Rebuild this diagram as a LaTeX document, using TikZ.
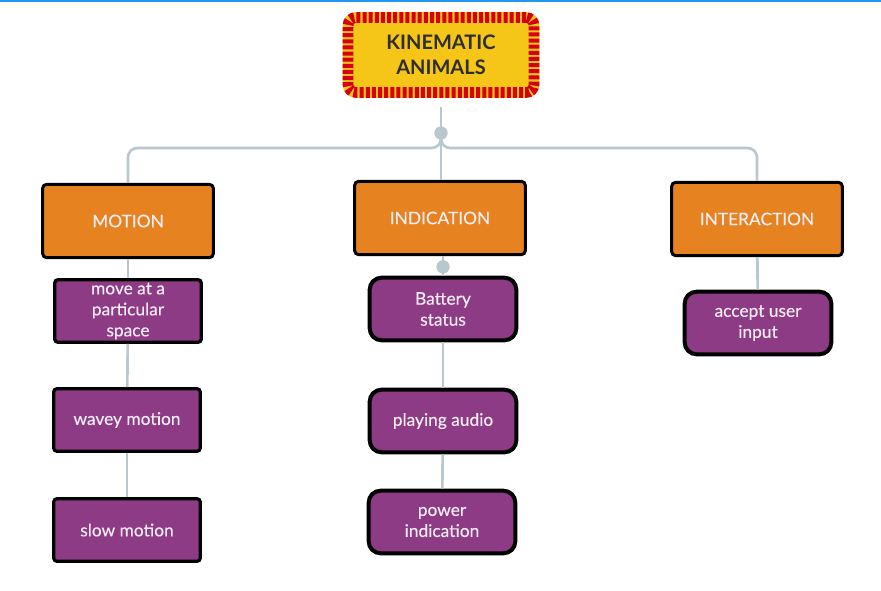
\documentclass[tikz,border=0pt]{standalone}
\usepackage{fontspec}
\setmainfont{Lato}
\newfontfamily\boxfont{Lato}[FakeBold=0.35]
\usetikzlibrary{positioning}
\definecolor{mmorange}{HTML}{E6821F}
\definecolor{mmpurple}{HTML}{8E3B85}
\definecolor{mmtext}{HTML}{F4ECF3}
\definecolor{mmyellow}{HTML}{F5C518}
\definecolor{mmred}{HTML}{D50010}
\definecolor{mmdark}{HTML}{2E2E2E}
\definecolor{mmline}{HTML}{B9C8CF}
\definecolor{mmblue}{HTML}{2196F3}

\begin{document}
\begin{tikzpicture}[
    x=0.75pt, y=-0.75pt,
    font=\boxfont\fontsize{13}{15.75}\selectfont,
    headbox/.style={draw=mmred, line width=8pt, dash pattern=on 3pt off 1.6pt,
      preaction={draw=mmyellow, line width=8pt, solid}, fill=mmyellow,
      rounded corners=6pt, minimum width=139.5pt, minimum height=56.25pt,
      align=center, text=mmdark, font=\fontsize{15}{19}\selectfont\bfseries},
    cat/.style={draw=black, line width=2.25pt, rounded corners=3pt, fill=mmorange,
      text=mmtext, minimum width=128pt, minimum height=55pt, align=center},
    leaf/.style={draw=black, line width=2.4pt, rounded corners=2.5pt, fill=mmpurple,
      text=mmtext, minimum width=110pt, minimum height=47pt, align=center, inner sep=2pt},
    roundleaf/.style={leaf, rounded corners=9pt, line width=3pt},
    link/.style={draw=mmline, line width=2pt},
    hubdot/.style={circle, fill=mmline, inner sep=0pt, minimum size=10pt},
  ]
  \useasboundingbox (0,0) rectangle (881,590);
  \fill[mmblue] (0,0) rectangle (881,2);

  % title and the three branches
  \node[headbox] (title) at (441,55) {KINEMATIC\\ANIMALS};
  \node[cat] (motion) at (128,221) {MOTION};
  \node[cat] (indic) at (440,218) {INDICATION};
  \node[cat] (interact) at (757,219) {INTERACTION};

  % leaves
  \node[leaf] (move) at (128,311) {move at a\\particular\\space};
  \node[leaf] (wavey) at (127,420) {wavey motion};
  \node[leaf] (slow) at (127,530) {slow motion};
  \node[roundleaf] (battery) at (443,309) {Battery\\status};
  \node[roundleaf] (audio) at (443,421) {playing audio};
  \node[roundleaf] (power) at (442,522) {power\\indication};
  \node[roundleaf] (accept) at (758,323) {accept user\\input};

  % connectors
  \coordinate (titlefoot) at (441,107);
  \coordinate (hub) at (441,133);
  \coordinate (bar) at (441,148);
  \draw[link] (titlefoot) -- (indic.north -| titlefoot);
  \draw[link, rounded corners=7pt] (hub) |- (motion.north |- bar) -- (motion.north);
  \draw[link, rounded corners=7pt] (hub) |- (interact.north |- bar) -- (interact.north);
  \node[hubdot] at (hub) {};
  \draw[link] (battery.north |- indic.south) -- node[hubdot, pos=0.55] (inddot) {} (battery.north);
  \foreach \a/\b in {motion/move, move/wavey, wavey/slow, battery/audio, audio/power, interact/accept}
    \draw[link] (\a) -- (\b);
\end{tikzpicture}
\end{document}
